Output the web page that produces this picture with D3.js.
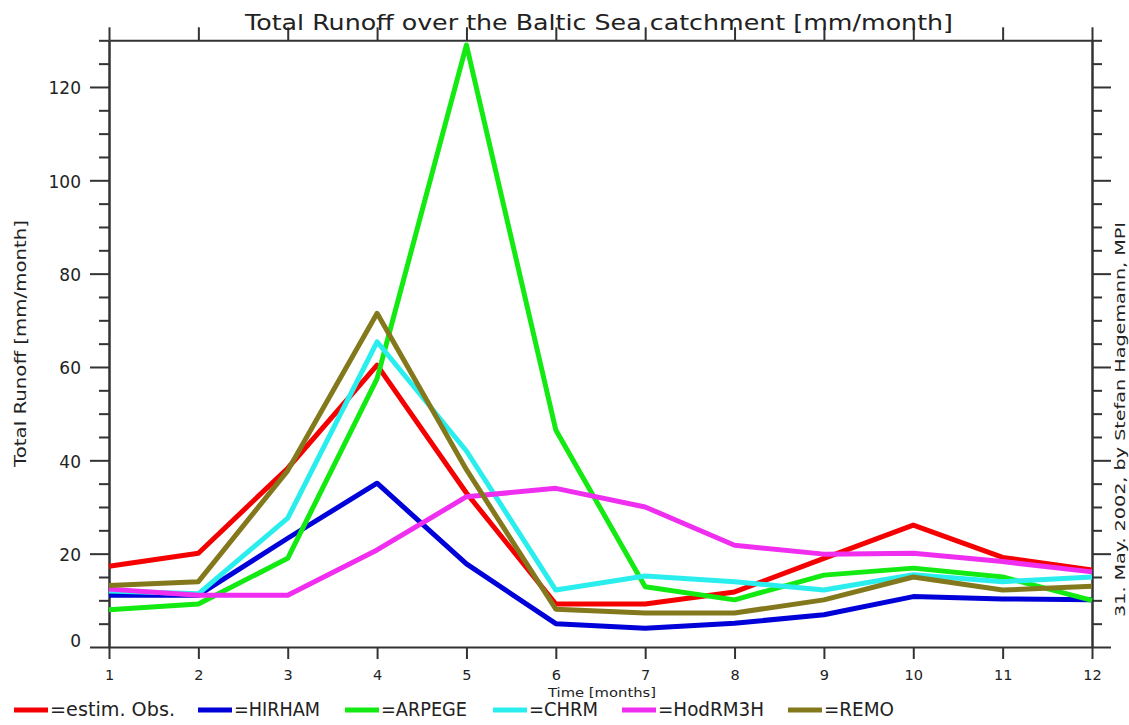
<!DOCTYPE html>
<html>
<head>
<meta charset="utf-8">
<script src="https://cdn.jsdelivr.net/npm/d3@7"></script>
<style>
  html, body { margin: 0; padding: 0; background: #fff; }
  svg { display: block; }
  text { font-family: "DejaVu Sans", sans-serif; fill: #222; }
</style>
</head>
<body>
<svg id="chart" width="1129" height="725"></svg>
<script>
// Monthly total runoff over the Baltic Sea catchment [mm/month]
const months = [1, 2, 3, 4, 5, 6, 7, 8, 9, 10, 11, 12];
const seriesNames = ["estim. Obs.", "HIRHAM", "ARPEGE", "CHRM", "HadRM3H", "REMO"];
const legendLabels = ["=estim. Obs.", "=HIRHAM", "=ARPEGE", "=CHRM", "=HodRM3H", "=REMO"];
const obsValues     = [17.3, 20.1, 38.3, 60.4, 33.0, 9.2, 9.2, 11.8, 19.0, 26.1, 19.2, 16.5];
const hirhamValues  = [11.1, 11.1, 23.3, 35.1, 17.8, 5.0, 4.0, 5.1, 6.9, 10.8, 10.3, 10.1];
const arpegeValues  = [8.0, 9.2, 19.0, 57.5, 129.0, 46.5, 12.9, 10.1, 15.4, 16.9, 15.0, 10.0];
const chrmValues    = [12.0, 11.4, 27.6, 65.4, 42.0, 12.2, 15.2, 14.0, 12.2, 15.5, 14.0, 15.0];
const hadrm3hValues = [12.4, 11.1, 11.1, 20.8, 32.2, 34.0, 30.0, 21.8, 19.9, 20.1, 18.3, 16.1];
const remoValues    = [13.2, 14.0, 37.8, 71.5, 38.0, 8.1, 7.3, 7.3, 10.1, 15.0, 12.2, 13.0];
const xTickLabels = months;
const yMajorTicks = [0, 20, 40, 60, 80, 100, 120];
const yMinorTicks = [5, 10, 15, 25, 30, 35, 45, 50, 55, 65, 70, 75, 85, 90, 95, 105, 110, 115, 125, 130];

const seriesValues = [obsValues, hirhamValues, arpegeValues, chrmValues, hadrm3hValues, remoValues];
const colors = ["#f50000", "#0000d8", "#12ea12", "#2aeeee", "#f02ef0", "#83791c"];

const svg = d3.select("#chart");
const axisColor = "#333";

const x = d3.scaleLinear().domain([1, 12]).range([109, 1092]);
const y = d3.scaleLinear().domain([0, 130]).range([647, 40.3]);

function styleAxis(g) {
  g.selectAll("path, line").attr("stroke", axisColor).attr("stroke-width", 2);
  g.attr("font-family", null).attr("font-size", null);
}

// Left axis: labelled major ticks and short minor ticks
svg.append("g").attr("transform", `translate(${x(1)},0)`)
  .call(d3.axisLeft(y).tickValues(yMajorTicks).tickSize(19).tickSizeOuter(0).tickPadding(9))
  .call(styleAxis)
  .call(g => g.selectAll("text")
    .style("font-size", "17px")
    .attr("dy", d => d === 0 ? "-0.05em" : "0.4em"));
svg.append("g").attr("transform", `translate(${x(1)},0)`)
  .call(d3.axisLeft(y).tickValues(yMinorTicks).tickSize(10).tickSizeOuter(0).tickFormat(""))
  .call(styleAxis);

// Right axis mirrors the ticks outward
svg.append("g").attr("transform", `translate(${x(12)},0)`)
  .call(d3.axisRight(y).tickValues(yMajorTicks).tickSize(19).tickSizeOuter(0).tickFormat(""))
  .call(styleAxis);
svg.append("g").attr("transform", `translate(${x(12)},0)`)
  .call(d3.axisRight(y).tickValues(yMinorTicks).tickSize(10).tickSizeOuter(0).tickFormat(""))
  .call(styleAxis);

// Bottom axis with month labels, top axis with plain ticks
svg.append("g").attr("transform", `translate(0,${y(0)})`)
  .call(d3.axisBottom(x).tickValues(xTickLabels).tickSize(12).tickSizeOuter(0).tickPadding(11).tickFormat(d3.format("d")))
  .call(styleAxis)
  .call(g => g.selectAll("text").style("font-size", "14.5px"));
svg.append("g").attr("transform", `translate(0,${y(130)})`)
  .call(d3.axisTop(x).tickValues(xTickLabels).tickSize(13).tickSizeOuter(0).tickFormat(""))
  .call(styleAxis);

// Series lines
const line = d3.line().x((d, i) => x(months[i])).y(d => y(d));
svg.append("g").selectAll("path")
  .data(seriesValues)
  .join("path")
  .attr("d", line)
  .attr("fill", "none")
  .attr("stroke", (d, i) => colors[i])
  .attr("stroke-width", 5)
  .attr("stroke-linejoin", "round");

// Titles
svg.append("text")
  .attr("x", 245).attr("y", 30)
  .attr("textLength", 708).attr("lengthAdjust", "spacingAndGlyphs")
  .style("font-size", "21px")
  .text("Total Runoff over the Baltic Sea catchment [mm/month]");

svg.append("text")
  .attr("transform", "translate(26,467) rotate(-90)")
  .attr("textLength", 247).attr("lengthAdjust", "spacingAndGlyphs")
  .style("font-size", "15px")
  .text("Total Runoff [mm/month]");

svg.append("text")
  .attr("x", 548).attr("y", 697)
  .attr("textLength", 108).attr("lengthAdjust", "spacingAndGlyphs")
  .style("font-size", "13px")
  .text("Time [months]");

svg.append("text")
  .attr("transform", "translate(1125,617) rotate(-90)")
  .attr("textLength", 395).attr("lengthAdjust", "spacingAndGlyphs")
  .style("font-size", "14px")
  .text("31. May. 2002, by Stefan Hagemann, MPI");

// Legend along the bottom edge
const legendTextWidths = [125, 86, 86, 69, 106, 70];
const legendGaps = [23, 25, 26, 24, 24, 0];
let lx = 14;
const legend = svg.append("g");
seriesNames.forEach((name, i) => {
  legend.append("line")
    .attr("x1", lx).attr("x2", lx + 34)
    .attr("y1", 710).attr("y2", 710)
    .attr("stroke", colors[i]).attr("stroke-width", 5);
  legend.append("text")
    .attr("x", lx + 36).attr("y", 716)
    .attr("textLength", legendTextWidths[i]).attr("lengthAdjust", "spacingAndGlyphs")
    .style("font-size", "19px")
    .text(legendLabels[i]);
  lx += 36 + legendTextWidths[i] + legendGaps[i];
});
</script>
</body>
</html>
